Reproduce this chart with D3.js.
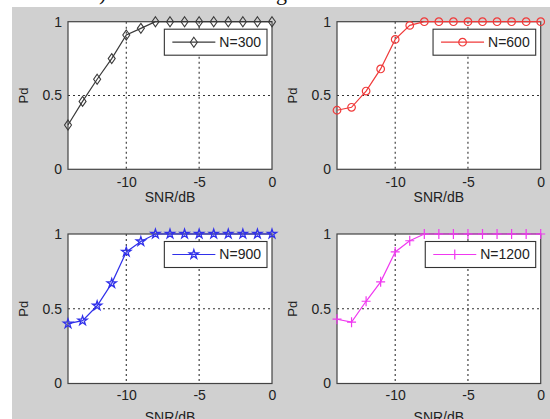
<!DOCTYPE html>
<html><head><meta charset="utf-8">
<script src="https://cdn.jsdelivr.net/npm/d3@7"></script>
<style>body{margin:0;background:#fff}svg{display:block}</style>
</head><body><script>
// ---- data ----
const snr = [-14,-13,-12,-11,-10,-9,-8,-7,-6,-5,-4,-3,-2,-1,0];
const pd300  = [0.30,0.46,0.61,0.75,0.91,0.955,1,1,1,1,1,1,1,1,1];
const pd600  = [0.40,0.42,0.53,0.68,0.88,0.975,1,1,1,1,1,1,1,1,1];
const pd900  = [0.40,0.42,0.52,0.67,0.88,0.95,1,1,1,1,1,1,1,1,1];
const pd1200 = [0.43,0.41,0.55,0.68,0.88,0.955,1,1,1,1,1,1,1,1,1];
const seriesNames = ["N=300","N=600","N=900","N=1200"];
const xTickValues = [-10,-5,0];
const xTickLabels = ["-10","-5","0"];
const yTickValues = [0,0.5,1];
const yTickLabels = ["0","0.5","1"];
const xLabel = "SNR/dB";
const yLabel = "Pd";

// ---- layout / style ----
const W = 550, H = 419;
const series = [pd300, pd600, pd900, pd1200];
const colors = ["#3a3a3a","#f03a3a","#3030ea","#f038f0"];
const markers = ["diamond","circle","star","plus"];
const panels = [
  {l:68,  r:272,   t:21.7, b:169.3, tickBase:17.5, labBase:33},
  {l:337, r:540.7, t:21.7, b:169.3, tickBase:17.5, labBase:33},
  {l:68,  r:272,   t:234,  b:383.5, tickBase:16,   labBase:38},
  {l:337, r:540.7, t:234,  b:383.5, tickBase:16,   labBase:38}
];
const font = "'Liberation Sans', Arial, sans-serif";
const txt = "#222";

const svg = d3.select("body").append("svg").attr("width", W).attr("height", H);
svg.append("rect").attr("width", W).attr("height", H).attr("fill", "#fff");

// cut-off caption remnants at the top
svg.append("text").attr("x", 99).attr("y", 0).attr("font-family","'Liberation Serif', serif")
  .attr("font-size", 22).attr("fill","#111").text(")");
svg.append("text").attr("x", 276).attr("y", 0).attr("font-family","'Liberation Serif', serif")
  .attr("font-size", 22).attr("fill","#111").text("g");

svg.append("rect").attr("x", 12).attr("y", 7).attr("width", W-12).attr("height", H-7).attr("fill", "#d0d0d0");

function drawMarker(g, type, color) {
  if (type === "diamond") {
    g.append("path").attr("d","M0,-5L3.5,0L0,5L-3.5,0Z").attr("fill","none").attr("stroke",color).attr("stroke-width",1.1);
  } else if (type === "circle") {
    g.append("circle").attr("r",3.8).attr("fill","none").attr("stroke",color).attr("stroke-width",1.2);
  } else if (type === "star") {
    g.append("path").attr("d", d3.symbol(d3.symbolStar, 26)()).attr("fill","none").attr("stroke",color).attr("stroke-width",1.3);
  } else {
    g.append("path").attr("d","M-4.5,0H4.5M0,-5V5").attr("fill","none").attr("stroke",color).attr("stroke-width",1.2);
  }
}

panels.forEach((p, i) => {
  const x = d3.scaleLinear().domain([-14, 0]).range([p.l, p.r]);
  const y = d3.scaleLinear().domain([0, 1]).range([p.b, p.t]);
  const g = svg.append("g");

  g.append("rect").attr("x", p.l).attr("y", p.t).attr("width", p.r-p.l).attr("height", p.b-p.t)
    .attr("fill", "#fff");

  // grid
  xTickValues.filter(v => v > -14 && v < 0).forEach(v => {
    g.append("line").attr("x1", x(v)).attr("x2", x(v)).attr("y1", p.t).attr("y2", p.b)
      .attr("stroke","#333").attr("stroke-width",1.1).attr("stroke-dasharray","2,3");
  });
  yTickValues.filter(v => v > 0 && v < 1).forEach(v => {
    g.append("line").attr("x1", p.l).attr("x2", p.r).attr("y1", y(v)).attr("y2", y(v))
      .attr("stroke","#333").attr("stroke-width",1.1).attr("stroke-dasharray","2,3");
  });

  // box
  g.append("rect").attr("x", p.l).attr("y", p.t).attr("width", p.r-p.l).attr("height", p.b-p.t)
    .attr("fill", "none").attr("stroke", "#444").attr("stroke-width", 1.2);

  // axes labels via d3 axes
  const xa = g.append("g").attr("transform", `translate(0,${p.b})`)
    .call(d3.axisBottom(x).tickValues(xTickValues).tickFormat((d, k) => xTickLabels[k]).tickSize(0).tickPadding(0));
  xa.select(".domain").remove();
  xa.selectAll("text").attr("dy", null).attr("y", p.tickBase).attr("font-family", font).attr("font-size", 14).attr("fill", txt);

  const ya = g.append("g").attr("transform", `translate(${p.l},0)`)
    .call(d3.axisLeft(y).tickValues(yTickValues).tickFormat((d, k) => yTickLabels[k]).tickSize(0).tickPadding(6));
  ya.select(".domain").remove();
  ya.selectAll("text").attr("font-family", font).attr("font-size", 14).attr("fill", txt);

  g.append("text").attr("x", (p.l+p.r)/2).attr("y", p.b + p.labBase).attr("text-anchor","middle")
    .attr("font-family", font).attr("font-size", 14).attr("fill", txt).text(xLabel);
  g.append("text").attr("transform", `translate(${p.l-40},${(p.t+p.b)/2}) rotate(-90)`).attr("text-anchor","middle")
    .attr("font-family", font).attr("font-size", 13).attr("fill", txt).text(yLabel);

  // data line
  const data = snr.map((s, k) => [s, series[i][k]]);
  g.append("path").datum(data)
    .attr("d", d3.line().x(d => x(d[0])).y(d => y(d[1])))
    .attr("fill","none").attr("stroke", colors[i]).attr("stroke-width", 1.2);
  data.forEach(d => {
    const mg = g.append("g").attr("transform", `translate(${x(d[0])},${y(d[1])})`);
    drawMarker(mg, markers[i], colors[i]);
  });

  // legend
  const lg = g.append("g");
  const t = lg.append("text").attr("font-family", font).attr("font-size", 14).attr("fill", txt)
    .attr("dy","0.35em").text(seriesNames[i]);
  const tw = t.node().getComputedTextLength();
  const bw = 8 + 43 + 4 + tw + 6, bh = 26;
  const bx = p.r - 5 - bw, by = p.t + 7.5;
  lg.insert("rect", "text").attr("x", bx).attr("y", by).attr("width", bw).attr("height", bh)
    .attr("fill","#fff").attr("stroke","#333").attr("stroke-width",1.1);
  t.attr("x", bx + 8 + 43 + 4).attr("y", by + bh/2);
  lg.append("line").attr("x1", bx+8).attr("x2", bx+51).attr("y1", by+bh/2).attr("y2", by+bh/2)
    .attr("stroke", colors[i]).attr("stroke-width", 1.2);
  const mg = lg.append("g").attr("transform", `translate(${bx+29.5},${by+bh/2})`);
  drawMarker(mg, markers[i], colors[i]);
});
</script></body></html>
